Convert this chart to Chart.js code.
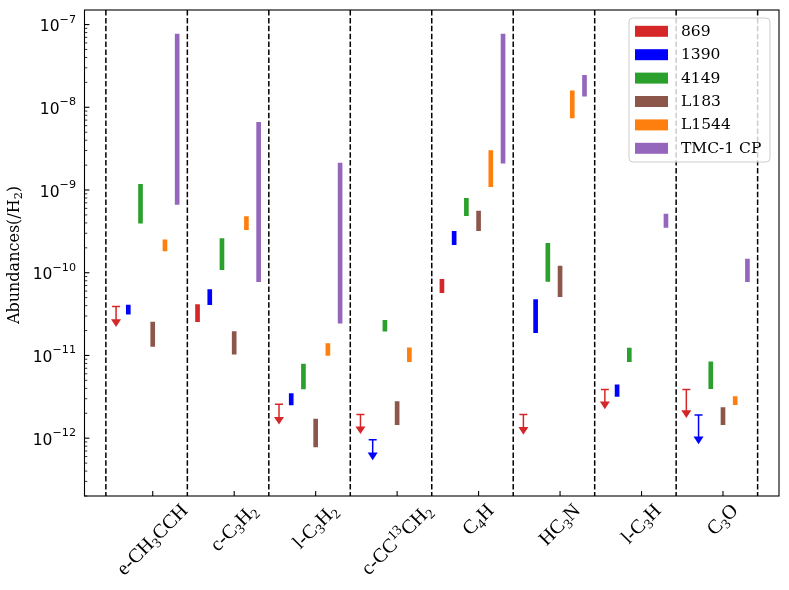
<!DOCTYPE html>
<html><head><meta charset="utf-8">
<script src="https://cdn.jsdelivr.net/npm/chart.js@4.4.1/dist/chart.umd.min.js"></script>
<style>html,body{margin:0;padding:0;background:#fff;} canvas{display:block;}</style>
</head><body>
<canvas id="c" width="789" height="590"></canvas>
<script>
// ---------------- data ----------------
const categories = ['e-CH₃CCH','c-C₃H₂','l-C₃H₂','c-CC¹³CH₂','C₄H','HC₃N','l-C₃H','C₃O'];
const seriesNames = ['869','1390','4149','L183','L1544','TMC-1 CP'];
// abundance ranges [low, high] per category (null = none / upper limit only)
const range869   = [null,[2.57e-11,4.12e-11],null,null,[5.75e-11,8.3e-11],null,null,null];
const range1390  = [[3.16e-11,4.07e-11],[4.12e-11,6.25e-11],[2.52e-12,3.47e-12],null,[2.18e-10,3.16e-10],[1.89e-11,4.73e-11],[3.19e-12,4.41e-12],null];
const range4149  = [[3.96e-10,1.17e-9],[1.09e-10,2.58e-10],[3.94e-12,7.89e-12],[1.96e-11,2.66e-11],[4.89e-10,7.92e-10],[7.87e-11,2.26e-10],[8.43e-12,1.23e-11],[3.98e-12,8.35e-12]];
const rangeL183  = [[1.29e-11,2.54e-11],[1.04e-11,1.95e-11],[7.85e-13,1.70e-12],[1.46e-12,2.77e-12],[3.22e-10,5.56e-10],[5.14e-11,1.2e-10],null,[1.46e-12,2.35e-12]];
const rangeL1544 = [[1.83e-10,2.5e-10],[3.31e-10,4.77e-10],[1.0e-11,1.39e-11],[8.43e-12,1.24e-11],[1.10e-9,3.0e-9],[7.46e-9,1.58e-8],null,[2.55e-12,3.19e-12]];
const rangeTMC1  = [[6.7e-10,7.7e-8],[7.8e-11,6.6e-9],[2.45e-11,2.11e-9],null,[2.11e-9,7.7e-8],[1.36e-8,2.44e-8],[3.53e-10,5.12e-10],[7.82e-11,1.46e-10]];
// upper limits [limit, arrow end]
const upper869  = [[3.9e-11,2.21e-11],null,[2.58e-12,1.46e-12],[1.93e-12,1.12e-12],null,[1.93e-12,1.10e-12],[3.87e-12,2.24e-12],[3.87e-12,1.75e-12]];
const upper1390 = [null,null,null,[9.55e-13,5.42e-13],null,null,null,[1.90e-12,8.47e-13]];
const yMajorTicks = [1e-12,1e-11,1e-10,1e-9,1e-8,1e-7];
const yLimits = [2e-13, 1.5e-7];
const yTitle = 'Abundances(/H₂)';

// ---------------- styling ----------------
const colors  = ['#d62728','#0000ff','#2ca02c','#8c564b','#ff7f0e','#9467bd'];
const offsets = [-0.45,-0.3,-0.15,0,0.15,0.3];
const ranges  = [range869,range1390,range4149,rangeL183,rangeL1544,rangeTMC1];
const uppers  = [upper869,upper1390,null,null,null,null];

const SUP = {'-':'⁻','0':'⁰','1':'¹','2':'²','3':'³','4':'⁴','5':'⁵','6':'⁶','7':'⁷','8':'⁸','9':'⁹'};
const supStr = n => String(n).split('').map(c=>SUP[c]).join('');
const SUB_BACK = {'₀':'0','₁':'1','₂':'2','₃':'3','₄':'4','₅':'5','₆':'6','₇':'7','₈':'8','₉':'9'};
const SUP_BACK = {'⁰':'0','¹':'1','²':'2','³':'3','⁴':'4','⁵':'5','⁶':'6','⁷':'7','⁸':'8','⁹':'9','⁻':'−'};

function parseRich(str){
  const segs=[];
  for(const ch of str){
    let mode=0, t=ch;
    if(SUB_BACK[ch]!==undefined){mode=1;t=SUB_BACK[ch];}
    else if(SUP_BACK[ch]!==undefined){mode=2;t=SUP_BACK[ch];}
    const last=segs[segs.length-1];
    if(last && last.mode===mode) last.t+=t; else segs.push({t,mode});
  }
  return segs;
}
function richWidth(ctx, segs, size, family, scl){
  let w=0;
  segs.forEach(s=>{ ctx.font=(s.mode?size*scl:size)+'px "'+family+'"'; w+=ctx.measureText(s.t).width; });
  return w;
}
function drawRich(ctx, segs, x, y, size, family, scl, subDy, supDy){
  let cx=x;
  segs.forEach(s=>{
    ctx.font=(s.mode?size*scl:size)+'px "'+family+'"';
    const dy = s.mode===1?subDy:(s.mode===2?-supDy:0);
    ctx.fillText(s.t,cx,y+dy);
    cx+=ctx.measureText(s.t).width;
  });
}

const datasets = seriesNames.map((name,s)=>({
  label:name,
  data: ranges[s].map((r,i)=> r ? {x:i+offsets[s], y:r} : null).filter(Boolean),
  backgroundColor: colors[s],
  borderWidth:0,
  barThickness:4,
  grouped:false
}));

function isMajor(v){ return yMajorTicks.some(m => Math.abs(v/m-1) < 1e-6); }

const decor = {
  id:'decor',
  beforeDatasetsDraw(chart){
    const {ctx, chartArea:a, scales:{x:xs}} = chart;
    ctx.save();
    ctx.strokeStyle='#000'; ctx.lineWidth=1.5; ctx.setLineDash([5.5,2.4]);
    for(let i=0;i<=categories.length;i++){
      const px = xs.getPixelForValue(i-0.575);
      ctx.beginPath(); ctx.moveTo(px,a.top); ctx.lineTo(px,a.bottom); ctx.stroke();
    }
    ctx.restore();
  },
  afterDatasetsDraw(chart){
    const {ctx, scales:{x:xs,y:ys}} = chart;
    ctx.save();
    uppers.forEach((u,s)=>{
      if(!u) return;
      u.forEach((v,i)=>{
        if(!v) return;
        const px = xs.getPixelForValue(i+offsets[s]);
        const y0 = ys.getPixelForValue(v[0]);
        const y1 = ys.getPixelForValue(v[1]);
        ctx.strokeStyle=colors[s]; ctx.fillStyle=colors[s]; ctx.lineWidth=1.5;
        ctx.beginPath();
        ctx.moveTo(px-4,y0); ctx.lineTo(px+4,y0);
        ctx.moveTo(px,y0); ctx.lineTo(px,y1-7);
        ctx.stroke();
        ctx.beginPath();
        ctx.moveTo(px-5,y1-7.7); ctx.lineTo(px+5,y1-7.7); ctx.lineTo(px,y1); ctx.closePath(); ctx.fill();
      });
    });
    ctx.restore();
  },
  afterDraw(chart){
    const {ctx, chartArea:a, scales:{x:xs,y:ys}} = chart;
    ctx.save();
    // spines
    ctx.strokeStyle='#000'; ctx.lineWidth=1.1;
    ctx.strokeRect(a.left,a.top,a.right-a.left,a.bottom-a.top);
    // y ticks (inward) + labels
    ctx.fillStyle='#000'; ctx.textAlign='left'; ctx.textBaseline='alphabetic';
    ys.ticks.forEach(t=>{
      const py = ys.getPixelForValue(t.value);
      const maj = isMajor(t.value);
      ctx.lineWidth = maj?1.1:0.8;
      ctx.beginPath(); ctx.moveTo(a.left,py); ctx.lineTo(a.left+(maj?4.9:2.8),py); ctx.stroke();
      if(maj){
        const lab = '10'+supStr(Math.round(Math.log10(t.value)));
        const segs = parseRich(lab);
        const w = richWidth(ctx, segs, 15.5, 'DejaVu Sans', 0.72);
        drawRich(ctx, segs, a.left-8.5-w, py+6.5, 15.5, 'DejaVu Sans', 0.72, 0, 8.5);
      }
    });
    // x ticks (inward) + labels
    ctx.lineWidth=1.1;
    const xs_size=20, fam='Liberation Serif';
    categories.forEach((c,i)=>{
      const px = xs.getPixelForValue(i);
      ctx.beginPath(); ctx.moveTo(px,a.bottom); ctx.lineTo(px,a.bottom-4.9); ctx.stroke();
      const segs = parseRich(c);
      const w = richWidth(ctx, segs, xs_size, fam, 0.7);
      const asc = 0.75*xs_size, desc = 0.22*xs_size, h = asc+desc;
      const half = (w+h)*Math.SQRT1_2/2;
      const cy = a.bottom + 5 + half;
      ctx.save();
      ctx.translate(px, cy);
      ctx.rotate(-Math.PI/4);
      ctx.textAlign='left'; ctx.textBaseline='alphabetic';
      drawRich(ctx, segs, -w/2, (asc-desc)/2, xs_size, fam, 0.7, 4, 8);
      ctx.restore();
    });
    // y title
    ctx.save();
    ctx.translate(18.5, (a.top+a.bottom)/2+2);
    ctx.rotate(-Math.PI/2);
    ctx.textAlign='left'; ctx.textBaseline='alphabetic';
    const tsegs = parseRich(yTitle);
    const tw = richWidth(ctx, tsegs, 16, 'DejaVu Serif', 0.7);
    drawRich(ctx, tsegs, -tw/2, 0, 16, 'DejaVu Serif', 0.7, 3.5, 7);
    ctx.restore();
    // legend
    const lx=629, ly=18, lw=141, lh=144, r=4;
    ctx.beginPath();
    ctx.moveTo(lx+r,ly); ctx.lineTo(lx+lw-r,ly); ctx.quadraticCurveTo(lx+lw,ly,lx+lw,ly+r);
    ctx.lineTo(lx+lw,ly+lh-r); ctx.quadraticCurveTo(lx+lw,ly+lh,lx+lw-r,ly+lh);
    ctx.lineTo(lx+r,ly+lh); ctx.quadraticCurveTo(lx,ly+lh,lx,ly+lh-r);
    ctx.lineTo(lx,ly+r); ctx.quadraticCurveTo(lx,ly,lx+r,ly); ctx.closePath();
    ctx.fillStyle='rgba(255,255,255,0.8)'; ctx.fill();
    ctx.strokeStyle='#cccccc'; ctx.lineWidth=1; ctx.stroke();
    ctx.font='15.5px "DejaVu Serif"'; ctx.textBaseline='middle'; ctx.textAlign='left';
    chart.data.datasets.forEach((d,s)=>{
      const ry = 31.3 + s*23.4;
      ctx.fillStyle=d.backgroundColor;
      ctx.fillRect(635, ry-5.5, 33, 11);
      ctx.fillStyle='#000';
      ctx.fillText(d.label, 681, ry+0.5);
    });
    ctx.restore();
  }
};

new Chart(document.getElementById('c'), {
  type:'bar',
  data:{datasets},
  options:{
    responsive:false, animation:false, events:[],
    layout:{padding:{left:0,right:10,top:10,bottom:0}},
    plugins:{legend:{display:false}, tooltip:{enabled:false}},
    scales:{
      x:{type:'linear', min:-0.8375, max:7.6875, offset:false,
         grid:{display:false, drawTicks:false}, border:{display:false},
         ticks:{display:false},
         afterFit:s=>{s.height=94;}},
      y:{type:'logarithmic', min:yLimits[0], max:yLimits[1],
         grid:{display:false, drawTicks:false}, border:{display:false},
         afterBuildTicks:(scale)=>{
           const t=[];
           yMajorTicks.concat([1e-13]).sort((p,q)=>p-q).forEach(base=>{
             for(let m=1;m<=9;m++){ const v=m*base; if(v>=yLimits[0]&&v<=yLimits[1]) t.push({value:v}); }
           });
           scale.ticks=t;
         },
         ticks:{display:false, autoSkip:false},
         afterFit:s=>{s.width=84.5;}}
    }
  },
  plugins:[decor]
});
</script>
</body></html>
